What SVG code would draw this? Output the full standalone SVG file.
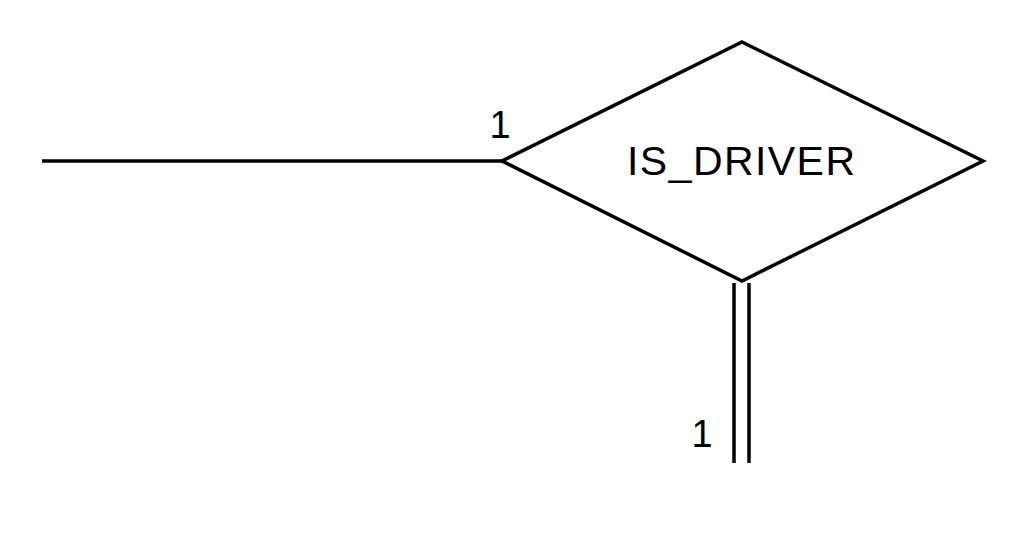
<svg xmlns="http://www.w3.org/2000/svg" width="1028" height="536" viewBox="0 0 1028 536">
<style>
.s{fill:none;stroke:#000;stroke-width:3.5}
.t{font-family:"Liberation Sans",Arial,sans-serif;fill:#000}
</style>
<rect width="1028" height="536" fill="#fff"/>
<g id="connectors">
<line class="s" x1="42" y1="161" x2="502" y2="161"/>
<line class="s" x1="734" y1="283" x2="734" y2="463"/>
<line class="s" x1="749" y1="283" x2="749" y2="463"/>
<text class="t" x="500" y="138" font-size="38" text-anchor="middle">1</text>
<text class="t" x="702" y="447" font-size="38" text-anchor="middle">1</text>
</g>
<g id="is_driver">
<polygon class="s" points="742,42 983,161 742,281 502,161"/>
<text class="t" x="741" y="175" font-size="41" text-anchor="middle" textLength="228" lengthAdjust="spacing">IS_DRIVER</text>
</g>
</svg>
